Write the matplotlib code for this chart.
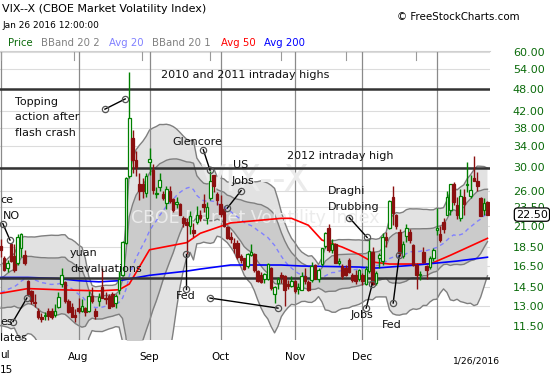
import numpy as np
import pandas as pd
import matplotlib
matplotlib.use('Agg')
import matplotlib.pyplot as plt
from matplotlib.transforms import blended_transform_factory

# daily VIX candles, 30 Jun 2015 (index -1) .. 26 Jan 2016 (index 143); index 0 = 1 Jul
opens = [18.6, 17.3, 16.3, 18.8, 17.5, 16.8, 18.4, 17.6, 15.1, 14.2, 13.3, 12.6, 12.1, 12.2, 12.6, 12.6,
         12.3, 12.9, 14.8, 15.0, 13.4, 12.9, 12.3,
         12.8, 12.6, 12.8, 12.6, 13.8, 12.6, 13.4, 14.5, 13.6, 13.8, 13.9, 13.2, 14.3, 15.6, 19.0, 28.4,
         35.7, 31.3, 27.0, 27.0, 25.7,
         30.9, 29.5, 25.4, 26.6, 25.5, 24.2, 26.0, 24.7, 24.0, 24.0, 22.1, 21.5, 21.0, 20.5, 21.5, 22.4,
         24.0, 22.0, 24.8, 28.5, 25.5,
         24.0, 23.3, 20.9, 19.7, 19.0, 19.0, 17.5, 17.3, 16.5, 17.6, 17.7, 16.0, 15.6, 15.3, 15.3, 16.3,
         13.9, 14.9, 15.6, 15.5, 14.8, 14.6,
         15.1, 14.4, 14.3, 15.5, 15.0, 15.2, 16.6, 15.3, 16.7, 18.6, 20.8, 18.2, 18.9, 16.8, 16.5, 16.3,
         17.1, 15.6, 15.6, 15.3,
         15.6, 14.8, 16.0, 18.0, 14.9, 17.3, 17.0, 19.7, 20.7, 25.0, 22.5, 20.3, 17.5, 19.8, 20.2, 18.7,
         16.6, 15.6, 18.0, 16.5, 16.4, 17.3,
         20.5, 20.0, 21.5, 22.5, 23.2, 27.0, 23.8, 22.0, 25.0, 26.9, 25.1, 28.0, 27.6, 24.8, 23.2, 24.3]
highs = [19.4, 17.5, 17.1, 19.0, 18.8, 20.0, 20.1, 18.2, 15.2, 14.3, 13.9, 12.8, 12.4, 12.5, 12.8, 12.8,
         13.1, 14.1, 16.3, 15.1, 13.5, 13.2, 12.7,
         13.6, 13.5, 12.9, 14.2, 14.5, 12.8, 14.0, 16.3, 14.1, 13.9, 14.1, 13.9, 16.0, 19.2, 28.3, 53.3,
         37.5, 33.1, 29.0, 28.0, 29.0,
         33.6, 30.5, 26.5, 29.0, 26.0, 26.7, 26.7, 24.9, 25.0, 24.2, 22.3, 22.0, 23.0, 21.4, 23.7, 23.1,
         25.5, 24.3, 29.3, 28.6, 25.8,
         25.3, 23.6, 21.0, 20.3, 19.5, 19.3, 17.7, 17.3, 17.9, 18.8, 17.8, 16.1, 15.9, 15.8, 16.8, 16.4,
         14.6, 15.4, 15.9, 15.6, 15.2, 15.5,
         15.2, 14.9, 15.9, 16.3, 15.2, 16.9, 16.7, 16.3, 18.4, 20.2, 21.3, 19.4, 19.0, 17.3, 16.7, 16.6,
         17.3, 15.8, 16.1, 16.2,
         15.8, 16.5, 19.4, 18.5, 16.0, 17.9, 20.1, 20.2, 24.6, 26.8, 22.6, 20.6, 19.2, 21.3, 20.6, 18.8,
         16.8, 16.0, 18.5, 16.6, 17.5, 18.4,
         23.4, 21.0, 22.1, 25.9, 27.1, 27.4, 25.0, 26.2, 26.3, 30.9, 28.5, 32.1, 29.1, 25.0, 24.9, 24.4]
lows = [17.4, 16.0, 15.9, 16.9, 15.9, 16.6, 17.4, 16.6, 13.8, 13.1, 12.9, 12.0, 11.8, 11.9, 11.9, 12.0,
        12.1, 12.8, 14.5, 13.2, 12.4, 12.1, 11.8,
        12.4, 12.5, 12.2, 12.5, 13.2, 12.0, 13.0, 13.6, 13.1, 12.8, 12.9, 12.8, 13.9, 15.5, 18.9, 28.0,
        29.0, 28.4, 24.5, 24.8, 25.0,
        28.5, 25.4, 24.9, 26.0, 24.6, 23.3, 24.1, 22.8, 23.4, 22.4, 20.9, 17.7, 20.0, 19.6, 21.3, 21.6,
        22.9, 21.2, 24.6, 25.8, 23.9,
        22.2, 20.9, 19.4, 19.0, 17.9, 17.2, 16.8, 16.1, 16.3, 17.5, 15.9, 15.0, 14.9, 14.9, 15.2, 14.3,
        13.2, 14.4, 14.9, 13.0, 14.4, 14.5,
        14.0, 13.9, 14.3, 14.8, 14.2, 15.0, 15.3, 15.0, 16.5, 18.4, 18.0, 17.8, 16.8, 16.6, 15.3, 15.5,
        15.8, 15.0, 14.8, 15.1,
        14.7, 14.7, 15.8, 14.7, 14.7, 16.3, 16.6, 18.5, 20.6, 21.1, 20.6, 17.5, 17.3, 19.1, 19.0, 16.5,
        14.4, 15.2, 16.8, 15.3, 16.2, 17.0,
        19.9, 19.1, 20.1, 22.4, 22.5, 23.9, 21.9, 21.6, 22.5, 25.8, 24.8, 27.5, 25.9, 22.3, 22.4, 22.4]
closes = [18.2, 16.1, 16.8, 17.0, 16.1, 19.7, 20.0, 16.8, 13.9, 13.4, 13.2, 12.1, 12.0, 12.3, 12.2, 12.1,
          12.6, 13.7, 15.6, 13.4, 12.5, 12.1, 12.1,
          12.6, 13.0, 12.5, 13.8, 13.4, 12.2, 13.7, 13.6, 13.5, 12.8, 13.0, 13.8, 15.3, 19.1, 28.0, 40.4,
          31.3, 29.9, 25.9, 26.0, 28.4,
          31.4, 26.1, 25.6, 27.8, 24.9, 26.2, 24.4, 23.2, 24.3, 22.5, 21.4, 21.1, 22.3, 20.1, 22.4, 22.1,
          23.5, 23.6, 27.6, 26.8, 24.5,
          22.6, 21.0, 19.5, 19.4, 18.4, 17.4, 17.1, 16.2, 17.7, 18.0, 16.1, 15.1, 15.0, 15.75, 16.7, 14.45,
          14.5, 15.3, 15.4, 14.3, 14.6, 15.1,
          14.15, 14.5, 15.5, 15.05, 14.3, 16.5, 15.3, 16.1, 18.4, 20.1, 18.2, 18.8, 16.85, 17.0, 15.5, 15.6,
          15.9, 15.2, 15.1, 16.1,
          15.1, 16.2, 18.1, 14.8, 15.8, 17.6, 19.6, 19.3, 24.4, 22.7, 20.95, 17.9, 18.9, 20.7, 19.3, 16.6,
          15.6, 15.7, 16.9, 16.1, 17.3, 18.2,
          20.7, 19.3, 20.6, 25.0, 27.0, 24.3, 22.5, 25.2, 23.95, 27.0, 26.05, 27.6, 26.7, 22.3, 24.15, 22.5]
# closes of June 2015 before the visible window (warm-up for the 20 day bands)
june_closes = [13.97, 14.24, 13.66, 14.71, 13.78, 15.29, 14.47, 12.85, 12.61, 13.78, 15.39, 14.81,
               14.50, 13.19, 13.96, 12.74, 12.11, 13.26, 14.01, 14.02, 18.85]

# moving averages (trading-day index, value)
avg50_idx = [-1, 7, 16, 28, 34, 37, 43, 54, 58, 67, 82, 85, 90, 94, 100, 105, 109, 114, 126, 132, 143]
avg50_val = [14.0, 14.4, 14.3, 14.2, 14.3, 14.8, 18.2, 19.0, 20.1, 21.4, 22.0, 22.0, 21.1, 19.3, 18.5,
             17.7, 16.9, 16.7, 16.7, 17.6, 19.5]
avg200_idx = [-1, 7, 16, 22, 28, 34, 43, 54, 58, 67, 82, 88, 105, 110, 122, 134, 143]
avg200_val = [15.4, 15.4, 15.3, 15.1, 15.0, 15.1, 15.6, 16.0, 16.2, 16.6, 16.6, 16.5, 16.4, 16.3, 16.6,
              17.0, 17.4]

month_idx = [-1, 22, 43, 64, 86, 106, 128]
month_lbl = ['', 'Aug', 'Sep', 'Oct', 'Nov', 'Dec', '']
ytick_vals = [60, 54, 48, 42, 38, 34, 30, 26, 23.5, 21, 18.5, 16.5, 14.5, 13, 11.5]
key_levels = [48, 29.8, 15.35]
top_marks = [-1.1, 20.5, 40.7, 60.8, 81.8, 101.1, 121.8]

# callout connector end points in (index, value)
callouts = [((29.8, 42.5), (35.8, 45.2)), ((-0.4, 21.3), (1.7, 19.3)), ((2.6, 11.8), (6.7, 13.6)),
            ((53.8, 17.7), (53.8, 14.4)), ((58.9, 33.3), (60.9, 29.4)), ((70.1, 26.0), (66.0, 23.4)),
            ((60.9, 13.6), (81.0, 12.8)), ((102.1, 22.1), (107.4, 19.6)), ((107.1, 12.8), (108.9, 14.8)),
            ((115.1, 13.2), (116.9, 17.6))]
notes = [(15, 102, 'Topping'), (15, 117, 'action after'), (15, 133, 'flash crash'),
         (161, 75, '2010 and 2011 intraday highs'), (287, 156, '2012 intraday high'),
         (172, 142, 'Glencore'), (233, 165, 'US'), (232, 181, 'Jobs'),
         (328, 191, 'Draghi'), (328, 207, 'Drubbing'), (70, 253, 'yuan'), (70, 269, 'devaluations'),
         (176, 296, 'Fed'), (351, 315, 'Jobs'), (382, 325, 'Fed'),
         (0, 200, 'ce'), (3, 216, 'NO'), (0, 322, 'es'), (0, 338, 'lates')]

W, H = 550, 375
fig = plt.figure(figsize=(5.5, 3.75), dpi=100)
ax = fig.add_axes([0, 1 - 340 / H, 490 / W, 289 / H])
ax.set_yscale('log')
ax.set_xlim(-1.25, 143.75)
ax.set_ylim(10.56, 60.36)

idx = np.arange(-1, len(closes) - 1)
allc = pd.Series(june_closes[:-1] + closes)
mid = allc.rolling(20).mean().values[-len(closes):]
sd = allc.rolling(20).std(ddof=0).values[-len(closes):]

ax.fill_between(idx, mid - 2 * sd, mid + 2 * sd, color='#e2e2e2', lw=0, zorder=1)
ax.fill_between(idx, mid - sd, mid + sd, color='#cbcbcb', lw=0, zorder=1.1)
for k in (-2, -1, 1, 2):
    ax.plot(idx, mid + k * sd, color='#7f7f7f', lw=1, zorder=1.2)

for y in ytick_vals:
    ax.axhline(y, color='#dcdcdc', lw=0.8, zorder=0.5)
for m in month_idx:
    ax.axvline(m, color='#8a8a8a', lw=0.9, zorder=1.3)

ax.plot(idx, mid, color='#8080ff', lw=1, ls=(0, (3, 2.5)), zorder=2)
ax.plot(avg50_idx, avg50_val, color='#ff0000', lw=1.2, zorder=2.1)
ax.plot(avg200_idx, avg200_val, color='#0000ff', lw=1.2, zorder=2.1)

for y in key_levels:
    ax.axhline(y, color='#333333', lw=1.8, zorder=2.5)

for i, o, h, l, c in zip(idx, opens, highs, lows, closes):
    up = c >= o
    col = '#008000' if up else '#8b1010'
    ax.vlines(i, l, h, color=col, lw=1, zorder=3)
    ax.bar(i, max(abs(c - o), 0.08), bottom=min(o, c), width=0.75,
           facecolor='white' if up else col, edgecolor=col, lw=0.9, zorder=3.1)

for a, b in callouts:
    ax.plot([a[0], b[0]], [a[1], b[1]], color='black', lw=1, zorder=4)
    ax.plot([a[0], b[0]], [a[1], b[1]], ls='none', marker='o', ms=4.5, mfc='none',
            mec='#555555', mew=0.9, zorder=4.1)

# watermark
ax.text(74.3, 27.7, 'VIX--X', fontsize=26.5, color='#ebebeb', ha='center', va='center', zorder=1.5)
ax.text(74.3, 22.1, 'CBOE Market Volatility Index', fontsize=12.5, color='#ebebeb',
        ha='center', va='center', zorder=1.5)

ax.set_yticks(ytick_vals)
ax.set_yticklabels(['%.2f' % v for v in ytick_vals])
ax.yaxis.set_minor_locator(matplotlib.ticker.NullLocator())
ax.tick_params(axis='y', which='both', left=False, right=False, labelleft=False, labelright=True,
               labelsize=8, labelcolor='#0b6b0b', pad=13)
ax.set_xticks(month_idx)
ax.set_xticklabels(month_lbl)
ax.tick_params(axis='x', length=0, labelsize=7.5, pad=9)
for s in ax.spines.values():
    s.set_visible(False)

tr = blended_transform_factory(ax.transData, ax.transAxes)
for m in top_marks:
    ax.plot([m, m], [1.0, 0.97], color='#9a9a9a', lw=0.8, transform=tr, clip_on=False)
ax.plot([-1.25, 143.75], [1.0, 1.0], color='#d0d0d0', lw=0.8, transform=tr, clip_on=False)

tb = blended_transform_factory(ax.transAxes, ax.transData)
ax.text(516 / 490, closes[-1], '%.2f' % closes[-1], transform=tb, fontsize=8, color='black',
        va='center', ha='left', zorder=6,
        bbox=dict(boxstyle='round,pad=0.15,rounding_size=0.3', fc='white', ec='black', lw=0.9))

for x, y, s in notes:
    fig.text(x / W, 1 - y / H, s, fontsize=8, va='center', ha='left', color='#111111')

fig.text(0, 1 - 355 / H, 'ul', fontsize=7.5, va='center', ha='left')
fig.text(0, 1 - 370 / H, '15', fontsize=7.5, va='center', ha='left')
fig.text(2 / W, 1 - 9 / H, 'VIX--X (CBOE Market Volatility Index)', fontsize=8, va='center')
fig.text(2 / W, 1 - 25 / H, 'Jan 26 2016 12:00:00', fontsize=6.5, va='center')
fig.text(520 / W, 1 - 17 / H, '\u00a9 FreeStockCharts.com', fontsize=7.4, va='center', ha='right')
legend_items = [(8, 'Price', '#0b6b0b'), (41, 'BBand 20 2', '#808080'), (109, 'Avg 20', '#8080ff'),
                (152, 'BBand 20 1', '#808080'), (221, 'Avg 50', '#ff0000'), (264, 'Avg 200', '#0000ff')]
for x, s, c in legend_items:
    fig.text(x / W, 1 - 43 / H, s, fontsize=7.3, va='center', color=c)
fig.text(477 / W, 1 - 361 / H, '1/26/2016', fontsize=6.6, va='center', ha='center')

fig.savefig('out.png', dpi=100)
